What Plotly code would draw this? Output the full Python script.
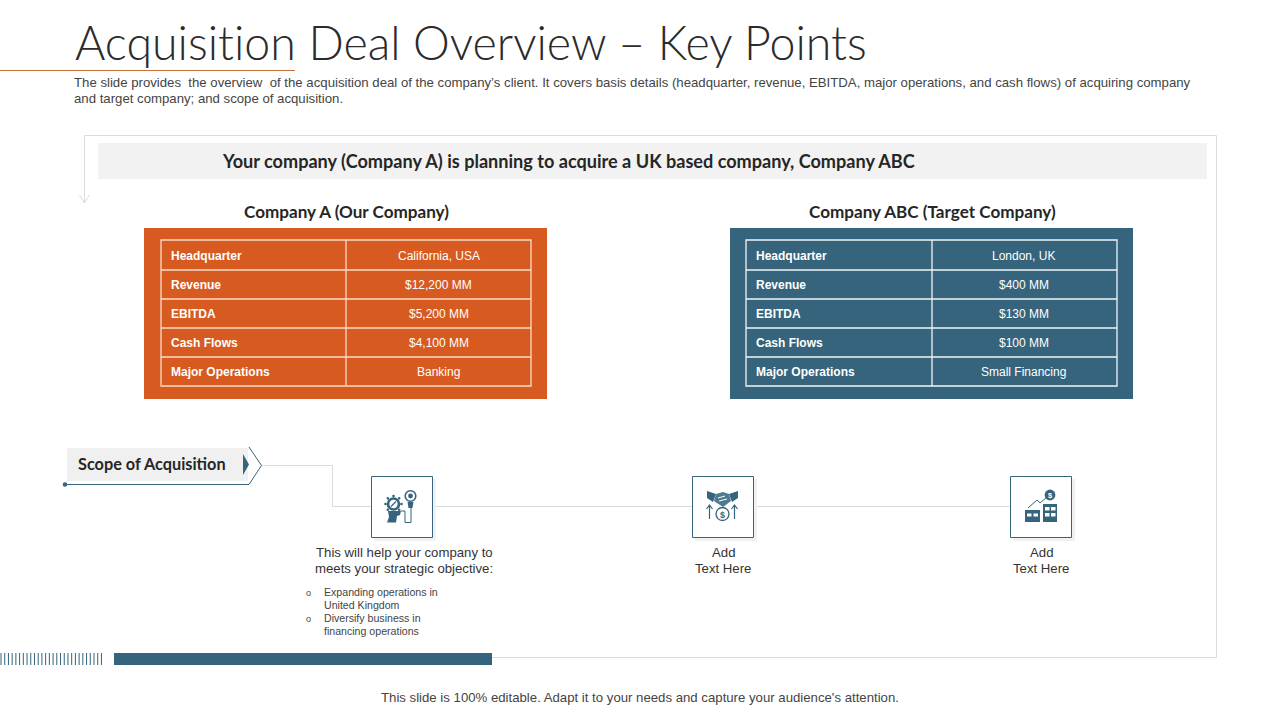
import plotly.graph_objects as go

TITLE = "Acquisit\u200cion Deal Overview – Key Points"
INTRO_1 = "The slide provides  the overview  of the acquisition deal of the company’s client. It covers basis details (headquarter, revenue, EBITDA, major operations, and cash flows) of acquiring company"
INTRO_2 = "and target company; and scope of acquisition."
BANNER = "Your company (Company A) is planning to acquire a UK based company, Company ABC"
ROW_LABELS = ["Headquarter", "Revenue", "EBITDA", "Cash Flows", "Major Operations"]
COMPANY_A_NAME = "Company A (Our Company)"
COMPANY_A_VALUES = ["California, USA", "$12,200 MM", "$5,200 MM", "$4,100 MM", "Banking"]
COMPANY_B_NAME = "Company ABC (Target Company)"
COMPANY_B_VALUES = ["London, UK", "$400 MM", "$130 MM", "$100 MM", "Small Financing"]
SCOPE = "Scope of Acquisition"
OBJECTIVE = ["This will help your company to", "meets your strategic objective:"]
BULLETS = ["Expanding operations in", "United Kingdom", "Diversify business in", "financing operations"]
ADD_TEXT = ["Add", "Text Here"]
FOOTER = "This slide is 100% editable. Adapt it to your needs and capture your audience's attention."

ORANGE = "#D75A20"
BLUE = "#35647C"
GREY_LINE = "#D9DCDE"
HEAD = "Lato"
BODY = "Liberation Sans"

shapes, notes = [], []

def rect(x0, y0, x1, y1, fill=None, line=None, w=1):
    shapes.append(dict(type="rect", x0=x0, y0=y0, x1=x1, y1=y1, fillcolor=fill or "rgba(0,0,0,0)",
                       line=dict(color=line or "rgba(0,0,0,0)", width=w if line else 0)))

def seg(x0, y0, x1, y1, color=GREY_LINE, w=1):
    shapes.append(dict(type="line", x0=x0, y0=y0, x1=x1, y1=y1, line=dict(color=color, width=w)))

def path(d, fill=None, line=None, w=1):
    shapes.append(dict(type="path", path=d, fillcolor=fill or "rgba(0,0,0,0)",
                       line=dict(color=line or "rgba(0,0,0,0)", width=w if line else 0)))

def circle(cx, cy, r, fill=None, line=None, w=1):
    shapes.append(dict(type="circle", x0=cx - r, y0=cy - r, x1=cx + r, y1=cy + r, fillcolor=fill or "rgba(0,0,0,0)",
                       line=dict(color=line or "rgba(0,0,0,0)", width=w if line else 0)))

def text(x, y, s, size=12, color="#404040", anchor="left", family=BODY, weight=None):
    font = dict(size=size, color=color, family=family)
    if weight:
        font["weight"] = weight
    notes.append(dict(x=x, y=y, text=s, showarrow=False, xanchor=anchor, yanchor="middle",
                      font=font, xref="x", yref="y", borderpad=0, borderwidth=0))

# Header
text(75, 42, TITLE, 46.5, "#2B2B2B", family=HEAD, weight=300)
seg(0, 70.5, 295, 70.5, "#C8703C", 1)
text(74, 82.5, INTRO_1, 13.2, "#444444")
text(74, 98.5, INTRO_2, 13.2, "#444444")

# Outer frame and banner
path("M 84.5 203 L 84.5 135.5 L 1216.5 135.5 L 1216.5 657.5 L 492 657.5", line=GREY_LINE)
path("M 79.5 195 L 84.5 203 L 89.5 195", line=GREY_LINE)
rect(98, 143, 1207, 179, fill="#F2F2F2")
text(222, 161, BANNER, 18.1, "#262626", family=HEAD, weight=700)

# Company tables
ROW_Y = [240, 270, 299, 328, 357, 386]
def company(left, tx0, name, values, fill, border, value_shift):
    rect(left, 228, left + 403, 399, fill=fill)
    tx1 = left + 387
    split = left + 202
    text(split, 211, name, 17.1, "#262626", anchor="center", family=HEAD, weight=700)
    rect(tx0, ROW_Y[0], tx1, ROW_Y[-1], line=border, w=1.3)
    seg(split, ROW_Y[0], split, ROW_Y[-1], border, 1.3)
    for i, (lab, val) in enumerate(zip(ROW_LABELS, values)):
        if i:
            seg(tx0, ROW_Y[i], tx1, ROW_Y[i], border, 1.3)
        mid = (ROW_Y[i] + ROW_Y[i + 1]) / 2 + 0.6
        text(tx0 + 10, mid, lab, 12, "#FFFFFF", weight=700)
        text((split + tx1) / 2 + value_shift, mid, val, 12, "#FFFFFF", anchor="center")

company(144, 161, COMPANY_A_NAME, COMPANY_A_VALUES, ORANGE, "#FBDCC6", 0)
company(730, 746, COMPANY_B_NAME, COMPANY_B_VALUES, BLUE, "#F2F5F7", -1)

# Scope tag and connectors
rect(67, 448, 248, 481, fill="#F0F0F0")
text(78, 463.5, SCOPE, 16.3, "#262626", family=HEAD, weight=700)
path("M 243 454 L 249 464.5 L 243 475 Z", fill=BLUE)
path("M 65 484.5 L 249 484.5 L 261.5 465.5 L 249 447", line=BLUE, w=1)
circle(65, 484.5, 2.3, fill=BLUE)
path("M 262 465.5 L 332.5 465.5 L 332.5 506.5 L 371 506.5", line=GREY_LINE)
seg(433, 506.5, 692, 506.5)
seg(754, 506.5, 1010, 506.5)

# Icon boxes
for bx in (371, 692, 1010):
    rect(bx + 3, 479, bx + 65, 541, fill="#F0F1F2")
    rect(bx + 0.5, 476.5, bx + 61.5, 537.5, fill="#FFFFFF", line=BLUE, w=1)

# Icon 1: head with gear, and bulb
circle(393.5, 504, 6.8, fill=BLUE)
for dx, dy in ((0, -8), (0, 8), (-8, 0), (8, 0), (-5.7, -5.7), (5.7, -5.7), (-5.7, 5.7), (5.7, 5.7)):
    circle(393.5 + dx, 504 + dy, 1.3, fill=BLUE)
circle(393.5, 504, 4.2, fill="#FFFFFF")
seg(391, 506.5, 396, 501.5, BLUE, 1.2)
path("M 388 511 L 401 511 L 400 515 L 397 516 L 396 522.5 L 387 522.5 L 389 517 Z", fill=BLUE)
circle(410.5, 496, 5.3, fill="#FFFFFF", line=BLUE, w=1.6)
circle(410.5, 496, 2.4, fill=BLUE)
path("M 407.5 502 L 413.5 502 L 412.5 508 L 408.5 508 Z", fill=BLUE)
path("M 401 511 L 405 511 L 405 522.5 L 411 522.5 L 411 508", line=BLUE, w=1)

# Icon 2: handshake, coin, arrows
path("M 707 491 L 716 494 L 713 502 L 707 498 Z", fill=BLUE)
path("M 738 491 L 729 494 L 732 502 L 738 498 Z", fill=BLUE)
path("M 716 494 L 723 492 L 729 494 L 731 501 L 723 507 L 714 501 Z", fill="#4E7A91")
path("M 718 498 L 725 496 M 719 501 L 727 499", line="#FFFFFF", w=1)
circle(722.5, 514, 6.5, fill="#FFFFFF", line=BLUE, w=1.3)
text(722.5, 514.5, "$", 9, BLUE, anchor="center", weight=700)
for ax in (709.5, 734.5):
    path(f"M {ax} 519 L {ax} 505 M {ax - 3} 509 L {ax} 505 L {ax + 3} 509", line=BLUE, w=1.2)

# Icon 3: buildings, trend, coin
rect(1025, 510, 1040, 522, fill=BLUE)
rect(1043, 504, 1057, 522, fill=BLUE)
for wx, wy, ww, wh in ((1027, 513.5, 4.5, 3), (1033.5, 513.5, 4.5, 3), (1045, 507, 4.5, 3.5), (1051, 507, 4.5, 3.5), (1045, 513, 4.5, 3.5), (1051, 513, 4.5, 3.5)):
    rect(wx, wy, wx + ww, wy + wh, fill="#FFFFFF")
path("M 1028 508 L 1037 500 L 1040 503 L 1047 497", line=BLUE, w=1)
circle(1050, 495, 5.4, fill=BLUE)
text(1050, 495.5, "$", 7.5, "#FFFFFF", anchor="center", weight=700)

# Icon captions
text(404, 552.5, OBJECTIVE[0], 13.2, "#333333", anchor="center")
text(404, 568.5, OBJECTIVE[1], 13.2, "#333333", anchor="center")
for y, s in zip((592, 605, 618, 631), BULLETS):
    text(324, y, s, 10.6, "#444444")
for y in (593, 619):
    text(308, y, "o", 9, "#444444", anchor="center")
for cx in (723, 1041):
    text(cx, 552.5, ADD_TEXT[0], 13.2, "#333333", anchor="center")
    text(cx, 568.5, ADD_TEXT[1], 13.2, "#333333", anchor="center")

# Bottom strip
for i in range(28):
    x = 1 + i * 3.72
    seg(x, 653, x, 665, BLUE, 1)
rect(114, 653, 492, 665, fill=BLUE)
text(640, 697.5, FOOTER, 13.2, "#444444", anchor="center")

fig = go.Figure()
fig.update_layout(
    width=1280, height=720, margin=dict(l=0, r=0, t=0, b=0), autosize=False,
    paper_bgcolor="#FFFFFF", plot_bgcolor="#FFFFFF", showlegend=False,
    xaxis=dict(range=[0, 1280], visible=False, fixedrange=True),
    yaxis=dict(range=[720, 0], visible=False, fixedrange=True),
    shapes=shapes, annotations=notes,
)
fig.write_html("out.html", config=dict(displayModeBar=False),
               post_script="document.body.style.margin='0';document.body.style.overflow='hidden';")
